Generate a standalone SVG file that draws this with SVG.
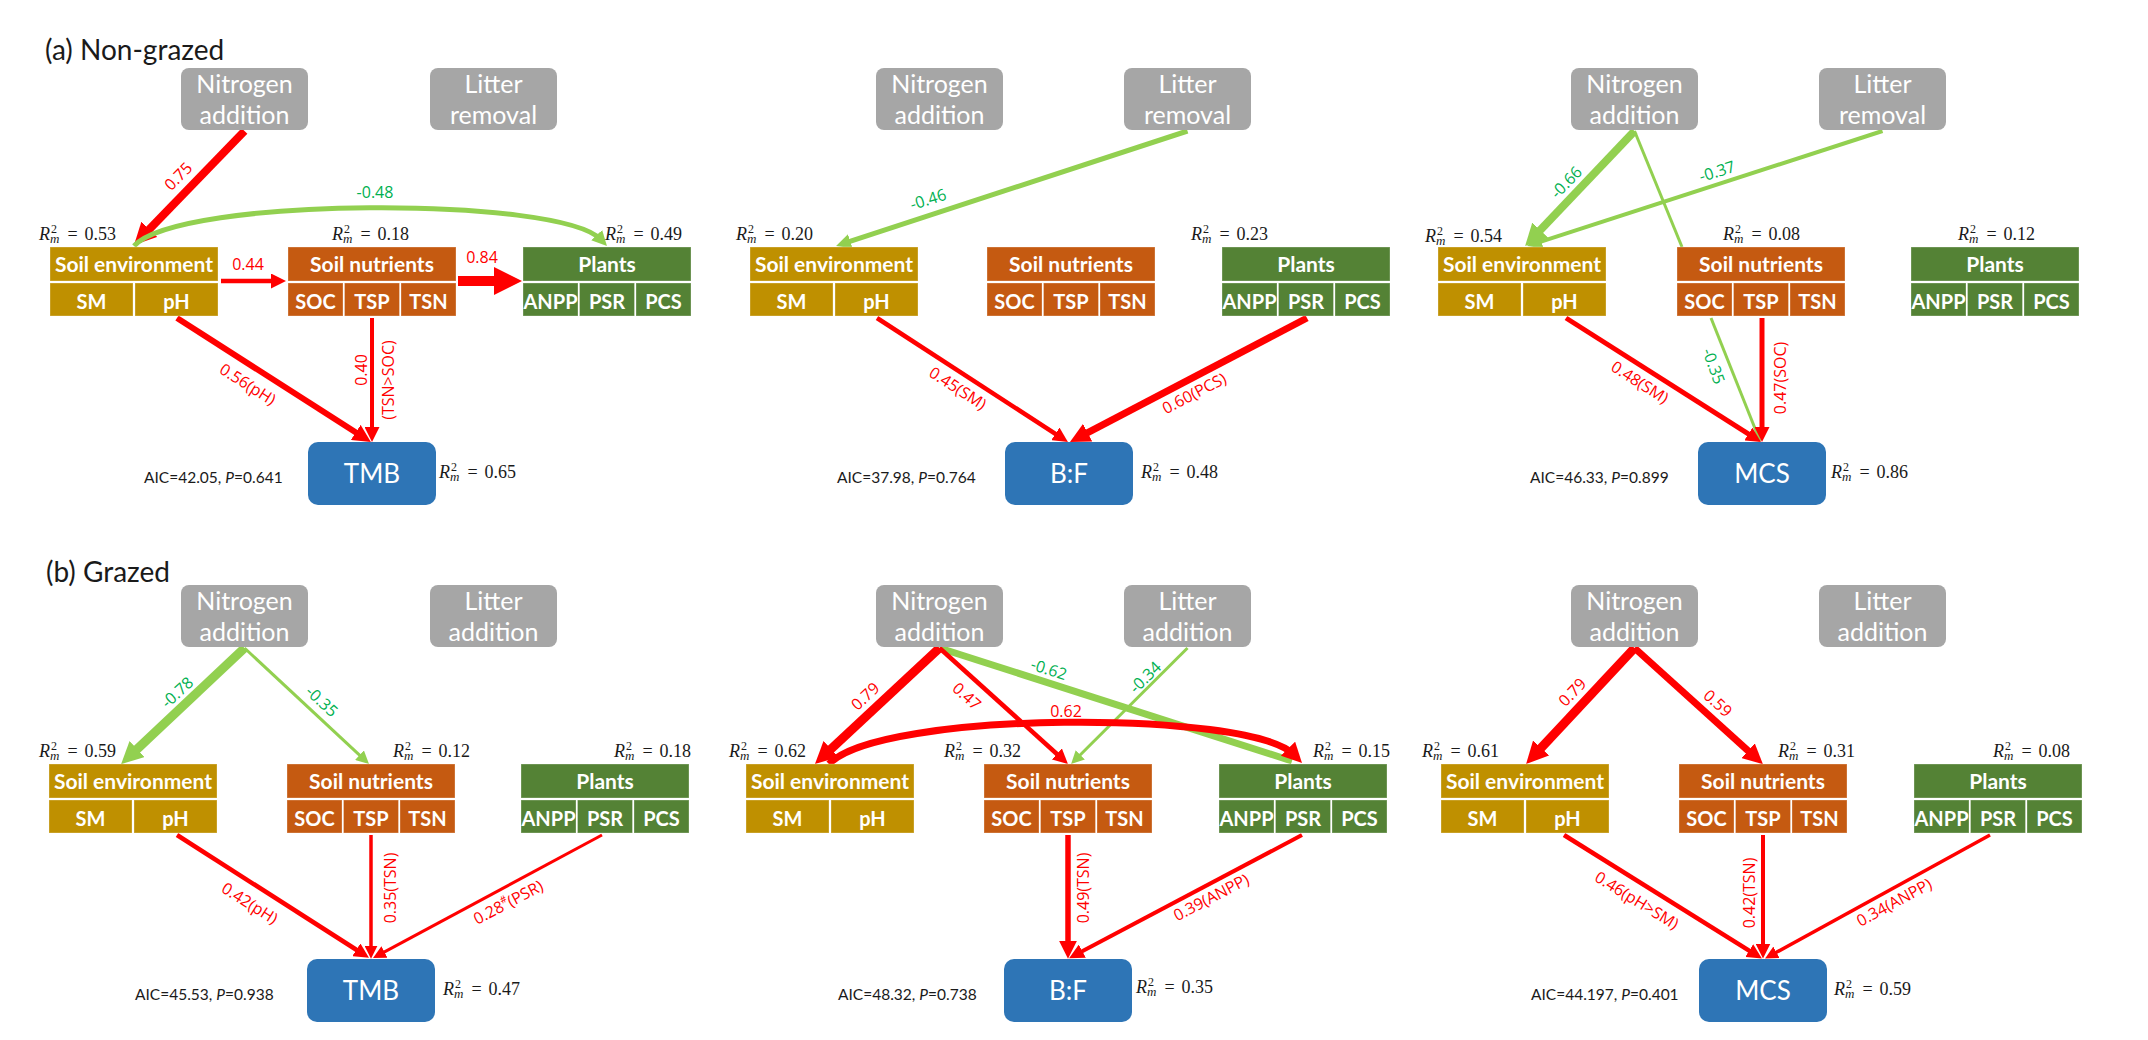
<svg xmlns="http://www.w3.org/2000/svg" width="2148" height="1040" viewBox="0 0 2148 1040">
  <style>
    .title{font-family:Lato,"Liberation Sans",sans-serif;font-size:28px;fill:#1a1a1a}
    .gb{fill:#A6A6A6}
    .gt{font-family:Lato,"Liberation Sans",sans-serif;font-size:25px;fill:#fff;text-anchor:middle}
    .se{fill:#BF9000;stroke:#fff;stroke-opacity:.3;stroke-width:1}
    .sn{fill:#C55A11;stroke:#fff;stroke-opacity:.3;stroke-width:1}
    .pl{fill:#548235;stroke:#fff;stroke-opacity:.3;stroke-width:1}
    .ob{fill:#2E75B6}
    .hdr{font-family:Lato,"Liberation Sans",sans-serif;font-weight:bold;font-size:21px;fill:#fff;text-anchor:middle}
    .sub{font-family:Lato,"Liberation Sans",sans-serif;font-weight:bold;font-size:20px;fill:#fff;text-anchor:middle}
    .ot{font-family:Lato,"Liberation Sans",sans-serif;font-size:26px;fill:#fff;text-anchor:middle}
    .r2{font-family:"Liberation Serif",serif;font-size:18px;fill:#1a1a1a}
    .r2 .i{font-style:italic}
    .r2 .s{font-size:12px}
    .r2 .m{font-size:13px}
    .aic{font-family:Lato,"Liberation Sans",sans-serif;font-size:15.5px;fill:#1a1a1a}
    .r{stroke:#FF0000;fill:none}
    .g{stroke:#92D050;fill:none}
    .lr,.lg{font-family:"Open Sans","Liberation Sans",sans-serif;font-size:16px;text-anchor:middle;dominant-baseline:central}
    .lr{fill:#FF0000}
    .lg{fill:#00B050}
  </style>
  <defs>
    <marker id="r13" markerUnits="userSpaceOnUse" markerWidth="13" markerHeight="13" refX="5.2" refY="6.5" orient="auto"><path d="M0,0L13,6.5L0,13z" fill="#FF0000"/></marker>
    <marker id="r15" markerUnits="userSpaceOnUse" markerWidth="15" markerHeight="15" refX="6" refY="7.5" orient="auto"><path d="M0,0L15,7.5L0,15z" fill="#FF0000"/></marker>
    <marker id="r18" markerUnits="userSpaceOnUse" markerWidth="18" markerHeight="18" refX="7.2" refY="9" orient="auto"><path d="M0,0L18,9L0,18z" fill="#FF0000"/></marker>
    <marker id="r20" markerUnits="userSpaceOnUse" markerWidth="20" markerHeight="20" refX="8" refY="10" orient="auto"><path d="M0,0L20,10L0,20z" fill="#FF0000"/></marker>
    <marker id="r22" markerUnits="userSpaceOnUse" markerWidth="22" markerHeight="22" refX="8.8" refY="11" orient="auto"><path d="M0,0L22,11L0,22z" fill="#FF0000"/></marker>
    <marker id="r28" markerUnits="userSpaceOnUse" markerWidth="28" markerHeight="28" refX="11.2" refY="14" orient="auto"><path d="M0,0L28,14L0,28z" fill="#FF0000"/></marker>
    <marker id="g13" markerUnits="userSpaceOnUse" markerWidth="13" markerHeight="13" refX="5.2" refY="6.5" orient="auto"><path d="M0,0L13,6.5L0,13z" fill="#92D050"/></marker>
    <marker id="g15" markerUnits="userSpaceOnUse" markerWidth="15" markerHeight="15" refX="6" refY="7.5" orient="auto"><path d="M0,0L15,7.5L0,15z" fill="#92D050"/></marker>
    <marker id="g22" markerUnits="userSpaceOnUse" markerWidth="22" markerHeight="22" refX="8.8" refY="11" orient="auto"><path d="M0,0L22,11L0,22z" fill="#92D050"/></marker>
  </defs>

  <rect width="2148" height="1040" fill="#fff"/>

  <text class="title" x="45" y="60">(a) Non-grazed</text>
  <text class="title" x="46" y="582">(b) Grazed</text>

  <!-- ===== connectors ===== -->
  <g id="connectors" stroke-linecap="butt">
    <!-- a1: TMB, non-grazed -->
    <path class="r" stroke-width="8" d="M244.5,131L143.2,235.6" marker-end="url(#r22)"/>
    <path class="g" stroke-width="5" d="M134,246C180,196 560,196 600.8,239.5" marker-end="url(#g15)"/>
    <path class="r" stroke-width="4.5" d="M221,281L277,281" marker-end="url(#r15)"/>
    <path class="r" stroke-width="10" d="M458,281L505.2,281" marker-end="url(#r28)"/>
    <path class="r" stroke-width="6" d="M177,318L361.8,436.3" marker-end="url(#r18)"/>
    <path class="r" stroke-width="4" d="M372,318L372,433" marker-end="url(#r15)"/>

    <!-- a2: B:F, non-grazed -->
    <path class="g" stroke-width="5" d="M1187.5,131L844.6,243.2" marker-end="url(#g15)"/>
    <path class="r" stroke-width="4.5" d="M877,318L1060.4,437.1" marker-end="url(#r15)"/>
    <path class="r" stroke-width="7" d="M1307,318L1080.6,436.4" marker-end="url(#r20)"/>

    <!-- a3: MCS, non-grazed -->
    <path class="g" stroke-width="3" d="M1634.5,131L1682,247"/>
    <path class="g" stroke-width="4" d="M1882.5,131L1535.6,243.3" marker-end="url(#g15)"/>
    <path class="g" stroke-width="8" d="M1634.5,131L1534.2,236.5" marker-end="url(#g22)"/>
    <path class="g" stroke-width="3" d="M1711,318L1760,441"/>
    <path class="r" stroke-width="5" d="M1566,318L1753.4,437.2" marker-end="url(#r15)"/>
    <path class="r" stroke-width="5" d="M1762,318L1762,433" marker-end="url(#r15)"/>

    <!-- b1: TMB, grazed -->
    <path class="g" stroke-width="9" d="M244.5,648L130.7,755.1" marker-end="url(#g22)"/>
    <path class="g" stroke-width="3" d="M244.5,648L363.3,758.7" marker-end="url(#g13)"/>
    <path class="r" stroke-width="4.5" d="M177,835L361.4,953" marker-end="url(#r15)"/>
    <path class="r" stroke-width="3.5" d="M371,835L371,951" marker-end="url(#r13)"/>
    <path class="r" stroke-width="3" d="M602,835L379.9,954.4" marker-end="url(#r13)"/>

    <!-- b2: B:F, grazed -->
    <path class="g" stroke-width="7" d="M939.5,648L1292,761"/>
    <path class="g" stroke-width="3" d="M1187.5,648L1076.6,758.5" marker-end="url(#g13)"/>
    <path class="r" stroke-width="9" d="M939.5,648L824.6,755" marker-end="url(#r22)"/>
    <path class="r" stroke-width="4.5" d="M939.5,648L1061.3,758" marker-end="url(#r15)"/>
    <path class="r" stroke-width="7" d="M829,764C880,710 1250,710 1293.6,754.4" marker-end="url(#r20)"/>
    <path class="r" stroke-width="5.5" d="M1068,835L1068,948" marker-end="url(#r18)"/>
    <path class="r" stroke-width="4" d="M1302,835L1077,954" marker-end="url(#r15)"/>

    <!-- b3: MCS, grazed -->
    <path class="r" stroke-width="9" d="M1634.5,648L1535.1,754.4" marker-end="url(#r22)"/>
    <path class="r" stroke-width="7" d="M1634.5,648L1754,756.1" marker-end="url(#r20)"/>
    <path class="r" stroke-width="4.5" d="M1564,835L1754.3,953.8" marker-end="url(#r15)"/>
    <path class="r" stroke-width="4" d="M1763,835L1763,949.5" marker-end="url(#r15)"/>
    <path class="r" stroke-width="3.5" d="M1990,835L1771.9,954.8" marker-end="url(#r13)"/>
  </g>

  <!-- ===== path coefficients ===== -->
  <g id="edge-labels">
    <text class="lr" x="178" y="176" transform="rotate(-45.5 178 176)">0.75</text>
    <text class="lg" x="375" y="192">-0.48</text>
    <text class="lr" x="248" y="264">0.44</text>
    <text class="lr" x="482" y="257">0.84</text>
    <text class="lr" x="248" y="384" transform="rotate(32.5 248 384)">0.56(pH)</text>
    <text class="lr" x="361" y="370" transform="rotate(-90 361 370)">0.40</text>
    <text class="lr" x="388" y="380" transform="rotate(-90 388 380)">(TSN&gt;SOC)</text>

    <text class="lg" x="928" y="199" transform="rotate(-17.8 928 199)">-0.46</text>
    <text class="lr" x="958" y="388" transform="rotate(33 958 388)">0.45(SM)</text>
    <text class="lr" x="1194" y="393" transform="rotate(-27.6 1194 393)">0.60(PCS)</text>

    <text class="lg" x="1566" y="182" transform="rotate(-46 1566 182)">-0.66</text>
    <text class="lg" x="1717" y="171" transform="rotate(-17.6 1717 171)">-0.37</text>
    <text class="lr" x="1640" y="382" transform="rotate(32.5 1640 382)">0.48(SM)</text>
    <text class="lg" x="1714" y="366" transform="rotate(70 1714 366)">-0.35</text>
    <text class="lr" x="1780" y="378" transform="rotate(-90 1780 378)">0.47(SOC)</text>

    <text class="lg" x="177" y="692" transform="rotate(-42.6 177 692)">-0.78</text>
    <text class="lg" x="322" y="701" transform="rotate(42.6 322 701)">-0.35</text>
    <text class="lr" x="250" y="903" transform="rotate(32.2 250 903)">0.42(pH)</text>
    <text class="lr" x="390" y="888" transform="rotate(-90 390 888)">0.35(TSN)</text>
    <text class="lr" x="508" y="902" transform="rotate(-27.8 508 902)">0.28<tspan font-size="10" dy="-5">#</tspan><tspan dy="5">(PSR)</tspan></text>

    <text class="lr" x="865" y="696" transform="rotate(-43 865 696)">0.79</text>
    <text class="lr" x="967" y="696" transform="rotate(42 967 696)">0.47</text>
    <text class="lg" x="1049" y="669" transform="rotate(17.8 1049 669)">-0.62</text>
    <text class="lg" x="1145" y="677" transform="rotate(-44.5 1145 677)">-0.34</text>
    <text class="lr" x="1066" y="711">0.62</text>
    <text class="lr" x="1083" y="888" transform="rotate(-90 1083 888)">0.49(TSN)</text>
    <text class="lr" x="1211" y="897" transform="rotate(-27.6 1211 897)">0.39(ANPP)</text>

    <text class="lr" x="1572" y="692" transform="rotate(-46.5 1572 692)">0.79</text>
    <text class="lr" x="1718" y="703" transform="rotate(41.5 1718 703)">0.59</text>
    <text class="lr" x="1637" y="900" transform="rotate(31.6 1637 900)">0.46(pH&gt;SM)</text>
    <text class="lr" x="1749" y="893" transform="rotate(-90 1749 893)">0.42(TSN)</text>
    <text class="lr" x="1894" y="902" transform="rotate(-28.5 1894 902)">0.34(ANPP)</text>
  </g>

  <!-- ===== treatment nodes ===== -->
  <g id="a1-nitrogen" transform="translate(181,68)"><rect class="gb" width="127" height="62" rx="8"/><text class="gt" x="63.5" y="25">Nitrogen</text><text class="gt" x="63.5" y="56">addition</text></g>
  <g id="a1-litter" transform="translate(430,68)"><rect class="gb" width="127" height="62" rx="8"/><text class="gt" x="63.5" y="25">Litter</text><text class="gt" x="63.5" y="56">removal</text></g>
  <g id="a2-nitrogen" transform="translate(876,68)"><rect class="gb" width="127" height="62" rx="8"/><text class="gt" x="63.5" y="25">Nitrogen</text><text class="gt" x="63.5" y="56">addition</text></g>
  <g id="a2-litter" transform="translate(1124,68)"><rect class="gb" width="127" height="62" rx="8"/><text class="gt" x="63.5" y="25">Litter</text><text class="gt" x="63.5" y="56">removal</text></g>
  <g id="a3-nitrogen" transform="translate(1571,68)"><rect class="gb" width="127" height="62" rx="8"/><text class="gt" x="63.5" y="25">Nitrogen</text><text class="gt" x="63.5" y="56">addition</text></g>
  <g id="a3-litter" transform="translate(1819,68)"><rect class="gb" width="127" height="62" rx="8"/><text class="gt" x="63.5" y="25">Litter</text><text class="gt" x="63.5" y="56">removal</text></g>
  <g id="b1-nitrogen" transform="translate(181,585)"><rect class="gb" width="127" height="62" rx="8"/><text class="gt" x="63.5" y="25">Nitrogen</text><text class="gt" x="63.5" y="56">addition</text></g>
  <g id="b1-litter" transform="translate(430,585)"><rect class="gb" width="127" height="62" rx="8"/><text class="gt" x="63.5" y="25">Litter</text><text class="gt" x="63.5" y="56">addition</text></g>
  <g id="b2-nitrogen" transform="translate(876,585)"><rect class="gb" width="127" height="62" rx="8"/><text class="gt" x="63.5" y="25">Nitrogen</text><text class="gt" x="63.5" y="56">addition</text></g>
  <g id="b2-litter" transform="translate(1124,585)"><rect class="gb" width="127" height="62" rx="8"/><text class="gt" x="63.5" y="25">Litter</text><text class="gt" x="63.5" y="56">addition</text></g>
  <g id="b3-nitrogen" transform="translate(1571,585)"><rect class="gb" width="127" height="62" rx="8"/><text class="gt" x="63.5" y="25">Nitrogen</text><text class="gt" x="63.5" y="56">addition</text></g>
  <g id="b3-litter" transform="translate(1819,585)"><rect class="gb" width="127" height="62" rx="8"/><text class="gt" x="63.5" y="25">Litter</text><text class="gt" x="63.5" y="56">addition</text></g>

  <!-- ===== soil environment nodes ===== -->
  <g id="a1-soil-env" transform="translate(50,247)"><rect class="se" width="168" height="34"/><rect class="se" y="36" width="83" height="33"/><rect class="se" x="85" y="36" width="83" height="33"/><text class="hdr" x="84" y="25">Soil environment</text><text class="sub" x="41.5" y="62">SM</text><text class="sub" x="126.5" y="62">pH</text></g>
  <g id="a2-soil-env" transform="translate(750,247)"><rect class="se" width="168" height="34"/><rect class="se" y="36" width="83" height="33"/><rect class="se" x="85" y="36" width="83" height="33"/><text class="hdr" x="84" y="25">Soil environment</text><text class="sub" x="41.5" y="62">SM</text><text class="sub" x="126.5" y="62">pH</text></g>
  <g id="a3-soil-env" transform="translate(1438,247)"><rect class="se" width="168" height="34"/><rect class="se" y="36" width="83" height="33"/><rect class="se" x="85" y="36" width="83" height="33"/><text class="hdr" x="84" y="25">Soil environment</text><text class="sub" x="41.5" y="62">SM</text><text class="sub" x="126.5" y="62">pH</text></g>
  <g id="b1-soil-env" transform="translate(49,764)"><rect class="se" width="168" height="34"/><rect class="se" y="36" width="83" height="33"/><rect class="se" x="85" y="36" width="83" height="33"/><text class="hdr" x="84" y="25">Soil environment</text><text class="sub" x="41.5" y="62">SM</text><text class="sub" x="126.5" y="62">pH</text></g>
  <g id="b2-soil-env" transform="translate(746,764)"><rect class="se" width="168" height="34"/><rect class="se" y="36" width="83" height="33"/><rect class="se" x="85" y="36" width="83" height="33"/><text class="hdr" x="84" y="25">Soil environment</text><text class="sub" x="41.5" y="62">SM</text><text class="sub" x="126.5" y="62">pH</text></g>
  <g id="b3-soil-env" transform="translate(1441,764)"><rect class="se" width="168" height="34"/><rect class="se" y="36" width="83" height="33"/><rect class="se" x="85" y="36" width="83" height="33"/><text class="hdr" x="84" y="25">Soil environment</text><text class="sub" x="41.5" y="62">SM</text><text class="sub" x="126.5" y="62">pH</text></g>

  <!-- ===== soil nutrient nodes ===== -->
  <g id="a1-soil-nut" transform="translate(288,247)"><rect class="sn" width="168" height="34"/><rect class="sn" y="36" width="55" height="33"/><rect class="sn" x="56.5" y="36" width="55" height="33"/><rect class="sn" x="113" y="36" width="55" height="33"/><text class="hdr" x="84" y="25">Soil nutrients</text><text class="sub" x="27.5" y="62">SOC</text><text class="sub" x="84" y="62">TSP</text><text class="sub" x="140.5" y="62">TSN</text></g>
  <g id="a2-soil-nut" transform="translate(987,247)"><rect class="sn" width="168" height="34"/><rect class="sn" y="36" width="55" height="33"/><rect class="sn" x="56.5" y="36" width="55" height="33"/><rect class="sn" x="113" y="36" width="55" height="33"/><text class="hdr" x="84" y="25">Soil nutrients</text><text class="sub" x="27.5" y="62">SOC</text><text class="sub" x="84" y="62">TSP</text><text class="sub" x="140.5" y="62">TSN</text></g>
  <g id="a3-soil-nut" transform="translate(1677,247)"><rect class="sn" width="168" height="34"/><rect class="sn" y="36" width="55" height="33"/><rect class="sn" x="56.5" y="36" width="55" height="33"/><rect class="sn" x="113" y="36" width="55" height="33"/><text class="hdr" x="84" y="25">Soil nutrients</text><text class="sub" x="27.5" y="62">SOC</text><text class="sub" x="84" y="62">TSP</text><text class="sub" x="140.5" y="62">TSN</text></g>
  <g id="b1-soil-nut" transform="translate(287,764)"><rect class="sn" width="168" height="34"/><rect class="sn" y="36" width="55" height="33"/><rect class="sn" x="56.5" y="36" width="55" height="33"/><rect class="sn" x="113" y="36" width="55" height="33"/><text class="hdr" x="84" y="25">Soil nutrients</text><text class="sub" x="27.5" y="62">SOC</text><text class="sub" x="84" y="62">TSP</text><text class="sub" x="140.5" y="62">TSN</text></g>
  <g id="b2-soil-nut" transform="translate(984,764)"><rect class="sn" width="168" height="34"/><rect class="sn" y="36" width="55" height="33"/><rect class="sn" x="56.5" y="36" width="55" height="33"/><rect class="sn" x="113" y="36" width="55" height="33"/><text class="hdr" x="84" y="25">Soil nutrients</text><text class="sub" x="27.5" y="62">SOC</text><text class="sub" x="84" y="62">TSP</text><text class="sub" x="140.5" y="62">TSN</text></g>
  <g id="b3-soil-nut" transform="translate(1679,764)"><rect class="sn" width="168" height="34"/><rect class="sn" y="36" width="55" height="33"/><rect class="sn" x="56.5" y="36" width="55" height="33"/><rect class="sn" x="113" y="36" width="55" height="33"/><text class="hdr" x="84" y="25">Soil nutrients</text><text class="sub" x="27.5" y="62">SOC</text><text class="sub" x="84" y="62">TSP</text><text class="sub" x="140.5" y="62">TSN</text></g>

  <!-- ===== plant nodes ===== -->
  <g id="a1-plants" transform="translate(523,247)"><rect class="pl" width="168" height="34"/><rect class="pl" y="36" width="55" height="33"/><rect class="pl" x="56.5" y="36" width="55" height="33"/><rect class="pl" x="113" y="36" width="55" height="33"/><text class="hdr" x="84" y="25">Plants</text><text class="sub" x="27.5" y="62">ANPP</text><text class="sub" x="84" y="62">PSR</text><text class="sub" x="140.5" y="62">PCS</text></g>
  <g id="a2-plants" transform="translate(1222,247)"><rect class="pl" width="168" height="34"/><rect class="pl" y="36" width="55" height="33"/><rect class="pl" x="56.5" y="36" width="55" height="33"/><rect class="pl" x="113" y="36" width="55" height="33"/><text class="hdr" x="84" y="25">Plants</text><text class="sub" x="27.5" y="62">ANPP</text><text class="sub" x="84" y="62">PSR</text><text class="sub" x="140.5" y="62">PCS</text></g>
  <g id="a3-plants" transform="translate(1911,247)"><rect class="pl" width="168" height="34"/><rect class="pl" y="36" width="55" height="33"/><rect class="pl" x="56.5" y="36" width="55" height="33"/><rect class="pl" x="113" y="36" width="55" height="33"/><text class="hdr" x="84" y="25">Plants</text><text class="sub" x="27.5" y="62">ANPP</text><text class="sub" x="84" y="62">PSR</text><text class="sub" x="140.5" y="62">PCS</text></g>
  <g id="b1-plants" transform="translate(521,764)"><rect class="pl" width="168" height="34"/><rect class="pl" y="36" width="55" height="33"/><rect class="pl" x="56.5" y="36" width="55" height="33"/><rect class="pl" x="113" y="36" width="55" height="33"/><text class="hdr" x="84" y="25">Plants</text><text class="sub" x="27.5" y="62">ANPP</text><text class="sub" x="84" y="62">PSR</text><text class="sub" x="140.5" y="62">PCS</text></g>
  <g id="b2-plants" transform="translate(1219,764)"><rect class="pl" width="168" height="34"/><rect class="pl" y="36" width="55" height="33"/><rect class="pl" x="56.5" y="36" width="55" height="33"/><rect class="pl" x="113" y="36" width="55" height="33"/><text class="hdr" x="84" y="25">Plants</text><text class="sub" x="27.5" y="62">ANPP</text><text class="sub" x="84" y="62">PSR</text><text class="sub" x="140.5" y="62">PCS</text></g>
  <g id="b3-plants" transform="translate(1914,764)"><rect class="pl" width="168" height="34"/><rect class="pl" y="36" width="55" height="33"/><rect class="pl" x="56.5" y="36" width="55" height="33"/><rect class="pl" x="113" y="36" width="55" height="33"/><text class="hdr" x="84" y="25">Plants</text><text class="sub" x="27.5" y="62">ANPP</text><text class="sub" x="84" y="62">PSR</text><text class="sub" x="140.5" y="62">PCS</text></g>

  <!-- ===== response nodes ===== -->
  <g id="a1-tmb" transform="translate(308,442)"><rect class="ob" width="128" height="63" rx="10"/><text class="ot" x="64" y="41">TMB</text></g>
  <g id="a2-bf" transform="translate(1005,442)"><rect class="ob" width="128" height="63" rx="10"/><text class="ot" x="64" y="41">B:F</text></g>
  <g id="a3-mcs" transform="translate(1698,442)"><rect class="ob" width="128" height="63" rx="10"/><text class="ot" x="64" y="41">MCS</text></g>
  <g id="b1-tmb" transform="translate(307,959)"><rect class="ob" width="128" height="63" rx="10"/><text class="ot" x="64" y="41">TMB</text></g>
  <g id="b2-bf" transform="translate(1004,959)"><rect class="ob" width="128" height="63" rx="10"/><text class="ot" x="64" y="41">B:F</text></g>
  <g id="b3-mcs" transform="translate(1699,959)"><rect class="ob" width="128" height="63" rx="10"/><text class="ot" x="64" y="41">MCS</text></g>

  <!-- ===== marginal R² and model fit ===== -->
  <g id="stats">
    <text class="r2" x="39" y="240"><tspan class="i">R</tspan><tspan class="s" dx="1" dy="-7">2</tspan><tspan class="m i" dx="-7" dy="10">m</tspan><tspan dx="8" dy="-3">=</tspan><tspan dx="7">0.53</tspan></text>
    <text class="r2" x="332" y="240"><tspan class="i">R</tspan><tspan class="s" dx="1" dy="-7">2</tspan><tspan class="m i" dx="-7" dy="10">m</tspan><tspan dx="8" dy="-3">=</tspan><tspan dx="7">0.18</tspan></text>
    <text class="r2" x="605" y="240"><tspan class="i">R</tspan><tspan class="s" dx="1" dy="-7">2</tspan><tspan class="m i" dx="-7" dy="10">m</tspan><tspan dx="8" dy="-3">=</tspan><tspan dx="7">0.49</tspan></text>
    <text class="r2" x="439" y="478"><tspan class="i">R</tspan><tspan class="s" dx="1" dy="-7">2</tspan><tspan class="m i" dx="-7" dy="10">m</tspan><tspan dx="8" dy="-3">=</tspan><tspan dx="7">0.65</tspan></text>
    <text class="aic" x="144" y="483">AIC=42.05, <tspan font-style="italic">P</tspan>=0.641</text>

    <text class="r2" x="736" y="240"><tspan class="i">R</tspan><tspan class="s" dx="1" dy="-7">2</tspan><tspan class="m i" dx="-7" dy="10">m</tspan><tspan dx="8" dy="-3">=</tspan><tspan dx="7">0.20</tspan></text>
    <text class="r2" x="1191" y="240"><tspan class="i">R</tspan><tspan class="s" dx="1" dy="-7">2</tspan><tspan class="m i" dx="-7" dy="10">m</tspan><tspan dx="8" dy="-3">=</tspan><tspan dx="7">0.23</tspan></text>
    <text class="r2" x="1141" y="478"><tspan class="i">R</tspan><tspan class="s" dx="1" dy="-7">2</tspan><tspan class="m i" dx="-7" dy="10">m</tspan><tspan dx="8" dy="-3">=</tspan><tspan dx="7">0.48</tspan></text>
    <text class="aic" x="837" y="483">AIC=37.98, <tspan font-style="italic">P</tspan>=0.764</text>

    <text class="r2" x="1425" y="242"><tspan class="i">R</tspan><tspan class="s" dx="1" dy="-7">2</tspan><tspan class="m i" dx="-7" dy="10">m</tspan><tspan dx="8" dy="-3">=</tspan><tspan dx="7">0.54</tspan></text>
    <text class="r2" x="1723" y="240"><tspan class="i">R</tspan><tspan class="s" dx="1" dy="-7">2</tspan><tspan class="m i" dx="-7" dy="10">m</tspan><tspan dx="8" dy="-3">=</tspan><tspan dx="7">0.08</tspan></text>
    <text class="r2" x="1958" y="240"><tspan class="i">R</tspan><tspan class="s" dx="1" dy="-7">2</tspan><tspan class="m i" dx="-7" dy="10">m</tspan><tspan dx="8" dy="-3">=</tspan><tspan dx="7">0.12</tspan></text>
    <text class="r2" x="1831" y="478"><tspan class="i">R</tspan><tspan class="s" dx="1" dy="-7">2</tspan><tspan class="m i" dx="-7" dy="10">m</tspan><tspan dx="8" dy="-3">=</tspan><tspan dx="7">0.86</tspan></text>
    <text class="aic" x="1530" y="483">AIC=46.33, <tspan font-style="italic">P</tspan>=0.899</text>

    <text class="r2" x="39" y="757"><tspan class="i">R</tspan><tspan class="s" dx="1" dy="-7">2</tspan><tspan class="m i" dx="-7" dy="10">m</tspan><tspan dx="8" dy="-3">=</tspan><tspan dx="7">0.59</tspan></text>
    <text class="r2" x="393" y="757"><tspan class="i">R</tspan><tspan class="s" dx="1" dy="-7">2</tspan><tspan class="m i" dx="-7" dy="10">m</tspan><tspan dx="8" dy="-3">=</tspan><tspan dx="7">0.12</tspan></text>
    <text class="r2" x="614" y="757"><tspan class="i">R</tspan><tspan class="s" dx="1" dy="-7">2</tspan><tspan class="m i" dx="-7" dy="10">m</tspan><tspan dx="8" dy="-3">=</tspan><tspan dx="7">0.18</tspan></text>
    <text class="r2" x="443" y="995"><tspan class="i">R</tspan><tspan class="s" dx="1" dy="-7">2</tspan><tspan class="m i" dx="-7" dy="10">m</tspan><tspan dx="8" dy="-3">=</tspan><tspan dx="7">0.47</tspan></text>
    <text class="aic" x="135" y="1000">AIC=45.53, <tspan font-style="italic">P</tspan>=0.938</text>

    <text class="r2" x="729" y="757"><tspan class="i">R</tspan><tspan class="s" dx="1" dy="-7">2</tspan><tspan class="m i" dx="-7" dy="10">m</tspan><tspan dx="8" dy="-3">=</tspan><tspan dx="7">0.62</tspan></text>
    <text class="r2" x="944" y="757"><tspan class="i">R</tspan><tspan class="s" dx="1" dy="-7">2</tspan><tspan class="m i" dx="-7" dy="10">m</tspan><tspan dx="8" dy="-3">=</tspan><tspan dx="7">0.32</tspan></text>
    <text class="r2" x="1313" y="757"><tspan class="i">R</tspan><tspan class="s" dx="1" dy="-7">2</tspan><tspan class="m i" dx="-7" dy="10">m</tspan><tspan dx="8" dy="-3">=</tspan><tspan dx="7">0.15</tspan></text>
    <text class="r2" x="1136" y="993"><tspan class="i">R</tspan><tspan class="s" dx="1" dy="-7">2</tspan><tspan class="m i" dx="-7" dy="10">m</tspan><tspan dx="8" dy="-3">=</tspan><tspan dx="7">0.35</tspan></text>
    <text class="aic" x="838" y="1000">AIC=48.32, <tspan font-style="italic">P</tspan>=0.738</text>

    <text class="r2" x="1422" y="757"><tspan class="i">R</tspan><tspan class="s" dx="1" dy="-7">2</tspan><tspan class="m i" dx="-7" dy="10">m</tspan><tspan dx="8" dy="-3">=</tspan><tspan dx="7">0.61</tspan></text>
    <text class="r2" x="1778" y="757"><tspan class="i">R</tspan><tspan class="s" dx="1" dy="-7">2</tspan><tspan class="m i" dx="-7" dy="10">m</tspan><tspan dx="8" dy="-3">=</tspan><tspan dx="7">0.31</tspan></text>
    <text class="r2" x="1993" y="757"><tspan class="i">R</tspan><tspan class="s" dx="1" dy="-7">2</tspan><tspan class="m i" dx="-7" dy="10">m</tspan><tspan dx="8" dy="-3">=</tspan><tspan dx="7">0.08</tspan></text>
    <text class="r2" x="1834" y="995"><tspan class="i">R</tspan><tspan class="s" dx="1" dy="-7">2</tspan><tspan class="m i" dx="-7" dy="10">m</tspan><tspan dx="8" dy="-3">=</tspan><tspan dx="7">0.59</tspan></text>
    <text class="aic" x="1531" y="1000">AIC=44.197, <tspan font-style="italic">P</tspan>=0.401</text>
  </g>
</svg>
